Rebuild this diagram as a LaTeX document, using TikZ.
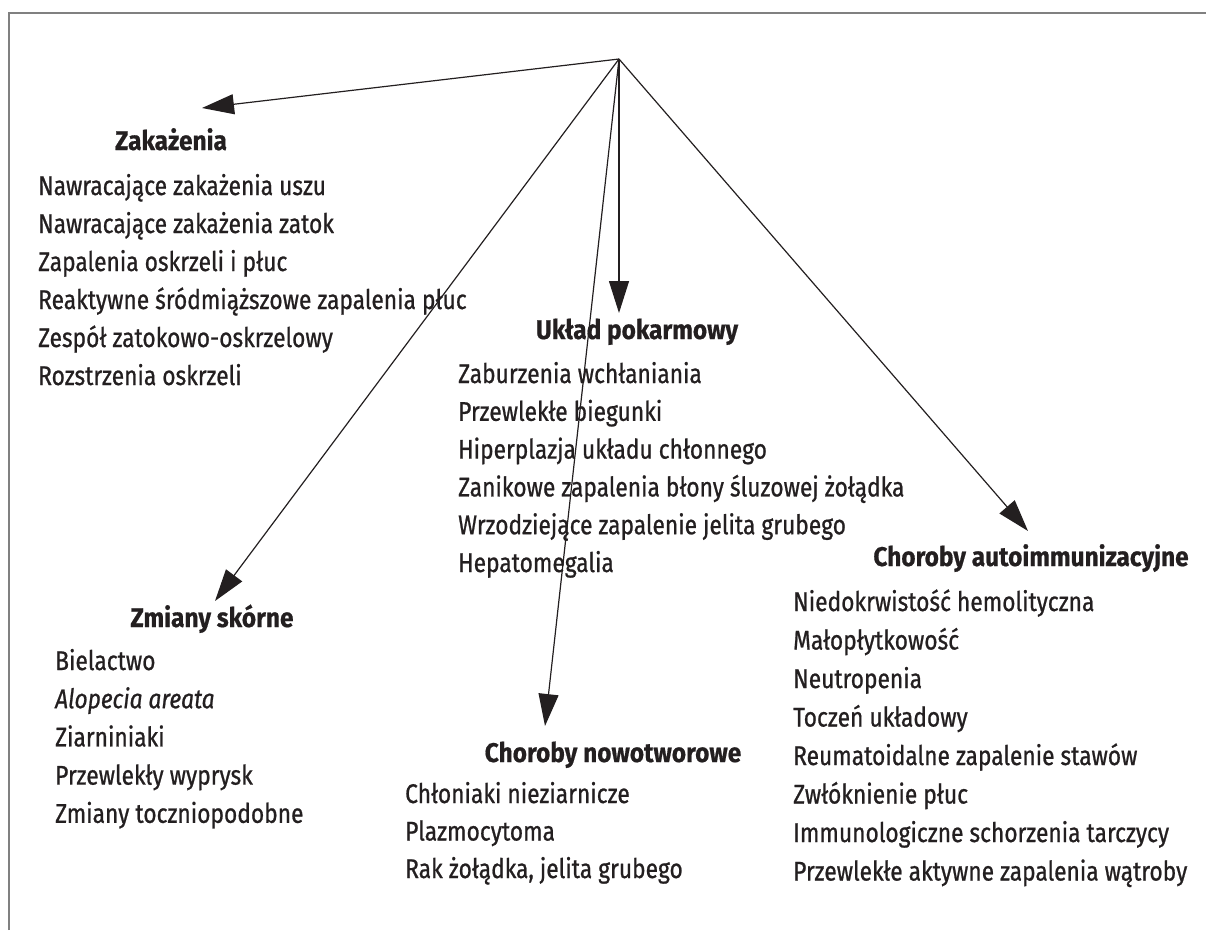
\documentclass[tikz,border=0pt]{standalone}
\usepackage{fontspec}
\setmainfont{Fira Sans}[FakeStretch=0.843, FakeBold=0.8]
\newfontfamily\headfamily{Fira Sans}[FakeStretch=0.905, FakeBold=0.6]
\usetikzlibrary{arrows.meta}
\definecolor{ink}{HTML}{231F20}
\definecolor{framegray}{HTML}{808080}
\begin{document}
\begin{tikzpicture}[x=1pt,y=-1pt,
  conn/.style={draw=ink, line width=1.2pt, -{Triangle[length=32pt,width=20pt]}},
  item/.style={anchor=base west, inner sep=0pt, text=ink, font=\fontsize{27}{30}\selectfont},
  head/.style={anchor=base, inner sep=0pt, text=ink, font=\headfamily\bfseries\fontsize{27}{30}\selectfont},
  frameline/.style={draw=framegray, line width=1.5pt}]
\useasboundingbox (0,0) rectangle (1206,930);
\draw[frameline] (9,930) -- (9,13) -- (1206,13);
% connector ends
\coordinate (apex) at (619,59);
\coordinate (tZak) at (202,108);
\coordinate (tUkl) at (619,313);
\coordinate (tSkin) at (215,601);
\coordinate (tNow) at (545,726);
\coordinate (tAuto) at (1028,531);
% headings
\node[head] (hZak) at (171,150) {Zakażenia};
\node[head] (hUkl) at (637,339) {Układ pokarmowy};
\node[head] (hSkin) at (212,627) {Zmiany skórne};
\node[head] (hNow) at (613,762) {Choroby nowotworowe};
\node[head] (hAuto) at (1031,566) {Choroby autoimmunizacyjne};
% lists
\foreach \t [count=\i from 0] in {Nawracające zakażenia uszu, Nawracające zakażenia zatok, Zapalenia oskrzeli i płuc, Reaktywne śródmiąższowe zapalenia płuc, Zespół zatokowo-oskrzelowy, Rozstrzenia oskrzeli}
  \node[item] (zak\i) at (38,{195+38*\i}) {\t};
\foreach \t [count=\i from 0] in {Zaburzenia wchłaniania, Przewlekłe biegunki, Hiperplazja układu chłonnego, Zanikowe zapalenia błony śluzowej żołądka, Wrzodziejące zapalenie jelita grubego, Hepatomegalia}
  \node[item] (ukl\i) at (458,{383+37.8*\i}) {\t};
\foreach \t [count=\i from 0] in {Bielactwo, {\itshape Alopecia areata}, Ziarniniaki, Przewlekły wyprysk, Zmiany toczniopodobne}
  \node[item] (skin\i) at (55,{670+38.2*\i}) {\t};
\foreach \t [count=\i from 0] in {Chłoniaki nieziarnicze, Plazmocytoma, {Rak żołądka, jelita grubego}}
  \node[item] (now\i) at (405,{803+37.5*\i}) {\t};
\foreach \t [count=\i from 0] in {Niedokrwistość hemolityczna, Małopłytkowość, Neutropenia, Toczeń układowy, Reumatoidalne zapalenie stawów, Zwłóknienie płuc, Immunologiczne schorzenia tarczycy, Przewlekłe aktywne zapalenia wątroby}
  \node[item] (auto\i) at (793,{611+38.5*\i}) {\t};
% connectors
\draw[conn] (apex) -- (tZak);
\draw[conn] (apex) -- (tUkl);
\draw[conn] (apex) -- (tSkin);
\draw[conn] (apex) -- (tNow);
\draw[conn] (apex) -- (tAuto);
\end{tikzpicture}
\end{document}
